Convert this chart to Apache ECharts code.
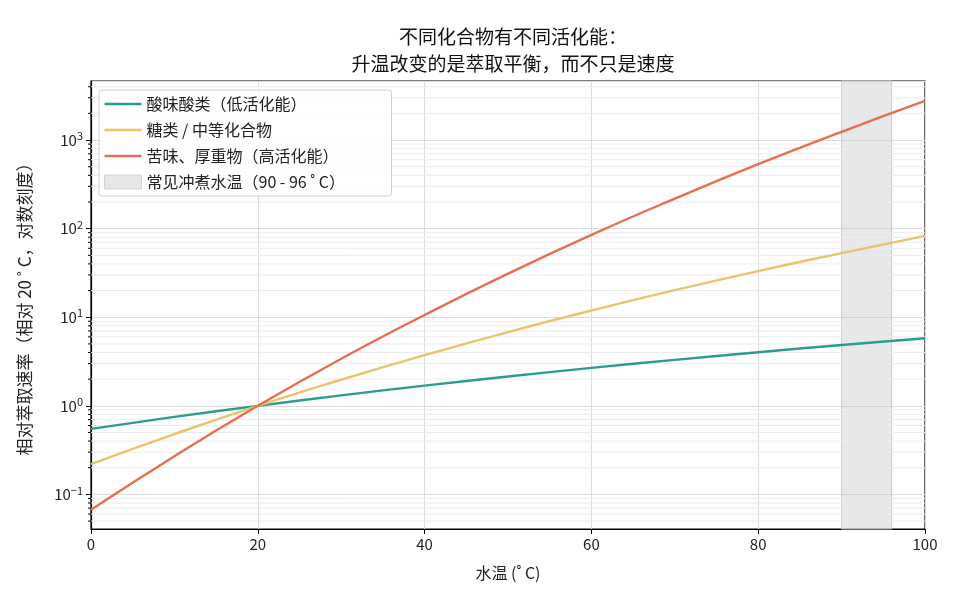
<!DOCTYPE html>
<html>
<head>
<meta charset="utf-8">
<script src="https://cdn.jsdelivr.net/npm/echarts@6/dist/echarts.min.js"></script>
<style>
    html, body { margin: 0; padding: 0; background: #fff; }
    #chart { width: 960px; height: 600px; }
</style>
</head>
<body>
<div id="chart"></div>
<script>
    // water temperature (°C)
    var temps = [0, 10, 20, 30, 40, 50, 60, 70, 80, 90, 100];
    // relative extraction rate (1 at 20 °C)
    var acids = [0.55, 0.75, 1, 1.31, 1.69, 2.14, 2.68, 3.30, 4.03, 4.86, 5.8];
    var sugars = [0.22, 0.48, 1, 1.97, 3.73, 6.8, 11.9, 20.2, 33.2, 53, 83];
    var bitters = [0.067, 0.27, 1, 3.4, 10.6, 31, 85, 218, 534, 1240, 2760];
    var brewBand = [90, 96];
    var seriesNames = ['酸味酸类（低活化能）', '糖类 / 中等化合物', '苦味、厚重物（高活化能）', '常见冲煮水温（90 - 96 ˚ C）'];
    var yMajor = [0.1, 1, 10, 100, 1000];
    var yMinor = [];
    [0.01, 0.1, 1, 10, 100, 1000].forEach(function (d) {
        for (var k = 2; k <= 9; k++) yMinor.push(+(d * k).toPrecision(3));
    });

    var font = '"Noto Sans CJK SC", "Noto Sans", sans-serif';
    var yMin = 0.0407, yMax = 4640;
    var lineIcon = 'path://M0,0 L36,0 L36,2.4 L0,2.4 Z';

    function pair(ys) {
        return temps.map(function (t, i) { return [t, ys[i]]; });
    }
    function isMajor(v) {
        return yMajor.indexOf(+(+v).toPrecision(3)) >= 0;
    }

    var supMap = { '-1': '−1', '0': '0', '1': '1', '2': '2', '3': '3' };

    var myChart = echarts.init(document.getElementById('chart'));

    var option = {
        backgroundColor: '#fff',
        textStyle: { fontFamily: font },
        title: {
            left: 508,
            textAlign: 'center',
            top: 18,
            text: '不同化合物有不同活化能：\n升温改变的是萃取平衡，而不只是速度',
            textStyle: { fontFamily: font, fontSize: 19, fontWeight: 'normal', color: '#111', lineHeight: 27 }
        },
        legend: {
            orient: 'vertical',
            left: 99,
            top: 90,
            padding: [6, 14, 6, 5],
            itemWidth: 37,
            itemHeight: 14,
            itemGap: 10,
            itemTextGap: 12,
            borderColor: '#d0d0d0',
            borderWidth: 1,
            borderRadius: 3,
            backgroundColor: 'rgba(255,255,255,0.85)',
            textStyle: { fontFamily: font, fontSize: 16, color: '#222', lineHeight: 16, width: 231 },
            data: [
                { name: seriesNames[0], icon: lineIcon },
                { name: seriesNames[1], icon: lineIcon },
                { name: seriesNames[2], icon: lineIcon },
                { name: seriesNames[3], icon: 'rect', itemStyle: { color: '#e6e7e9', borderColor: '#cfd1d4', borderWidth: 1 } }
            ]
        },
        grid: {
            left: 91, right: 35, top: 81, bottom: 71,
            show: true, borderColor: '#000', borderWidth: 1.2
        },
        xAxis: {
            type: 'value',
            min: 0, max: 100, interval: 20,
            name: '水温 (˚ C)',
            nameLocation: 'middle',
            nameGap: 36,
            nameTextStyle: { fontFamily: font, fontSize: 16, color: '#222' },
            axisLine: { lineStyle: { color: '#000', width: 1.2 } },
            axisTick: { length: 5, lineStyle: { color: '#000' } },
            axisLabel: { fontFamily: font, fontSize: 15, color: '#222', margin: 8 },
            splitLine: { show: true, lineStyle: { color: '#dcdcdc', width: 1 } }
        },
        yAxis: {
            type: 'log',
            logBase: 10,
            min: yMin, max: yMax,
            name: '相对萃取速率（相对 20 ˚ C，对数刻度）',
            nameLocation: 'middle',
            nameGap: 58,
            nameTextStyle: { fontFamily: font, fontSize: 17, color: '#222' },
            axisLine: { lineStyle: { color: '#000', width: 1.2 } },
            axisTick: {
                length: 5, lineStyle: { color: '#000' },
                interval: function (i, v) { return isMajor(v); }
            },
            axisLabel: {
                showMinLabel: false, showMaxLabel: false,
                margin: 8,
                formatter: function (v) {
                    var e = Math.round(Math.log10(v));
                    if (Math.abs(Math.log10(v) - e) > 1e-6) return '';
                    return '{b|10}{s|' + supMap[String(e)] + '}';
                },
                rich: {
                    b: { fontFamily: font, fontSize: 15, color: '#222' },
                    s: { fontFamily: font, fontSize: 11, color: '#222', verticalAlign: 'top', padding: [0, 0, 8, 0] }
                }
            },
            splitLine: {
                show: true, lineStyle: { color: '#dcdcdc', width: 1 },
                interval: function (i, v) { return isMajor(v); }
            }
        },
        series: [
            {
                // minor log gridlines and ticks
                type: 'custom',
                silent: true,
                clip: false,
                z: 1,
                data: yMinor.filter(function (v) { return v > yMin && v < yMax; }).map(function (v) { return [0, v]; }),
                renderItem: function (params, api) {
                    var cs = params.coordSys;
                    var y = api.coord([0, api.value(1)])[1];
                    return {
                        type: 'group',
                        children: [
                            { type: 'line', shape: { x1: cs.x, y1: y, x2: cs.x + cs.width, y2: y }, style: { stroke: '#ececec', lineWidth: 1 } },
                            { type: 'line', shape: { x1: cs.x - 3, y1: y, x2: cs.x, y2: y }, style: { stroke: '#000', lineWidth: 1 } }
                        ]
                    };
                }
            },
            {
                name: seriesNames[3],
                type: 'line',
                data: [],
                itemStyle: { color: '#e6e7e9' },
                markArea: {
                    silent: true,
                    itemStyle: { color: 'rgba(200,203,207,0.45)', borderColor: '#c8cacd', borderWidth: 1 },
                    data: [[{ xAxis: brewBand[0] }, { xAxis: brewBand[1] }]]
                },
                z: 2
            },
            {
                name: seriesNames[0], type: 'line', data: pair(acids),
                smooth: true, symbol: 'none', z: 3,
                lineStyle: { color: '#2a9d8f', width: 2.4 }, itemStyle: { color: '#2a9d8f' }
            },
            {
                name: seriesNames[1], type: 'line', data: pair(sugars),
                smooth: true, symbol: 'none', z: 3,
                lineStyle: { color: '#e9c46a', width: 2.4 }, itemStyle: { color: '#e9c46a' }
            },
            {
                name: seriesNames[2], type: 'line', data: pair(bitters),
                smooth: true, symbol: 'none', z: 3,
                lineStyle: { color: '#e76f51', width: 2.4 }, itemStyle: { color: '#e76f51' }
            }
        ]
    };

    myChart.setOption(option);
</script>
</body>
</html>
